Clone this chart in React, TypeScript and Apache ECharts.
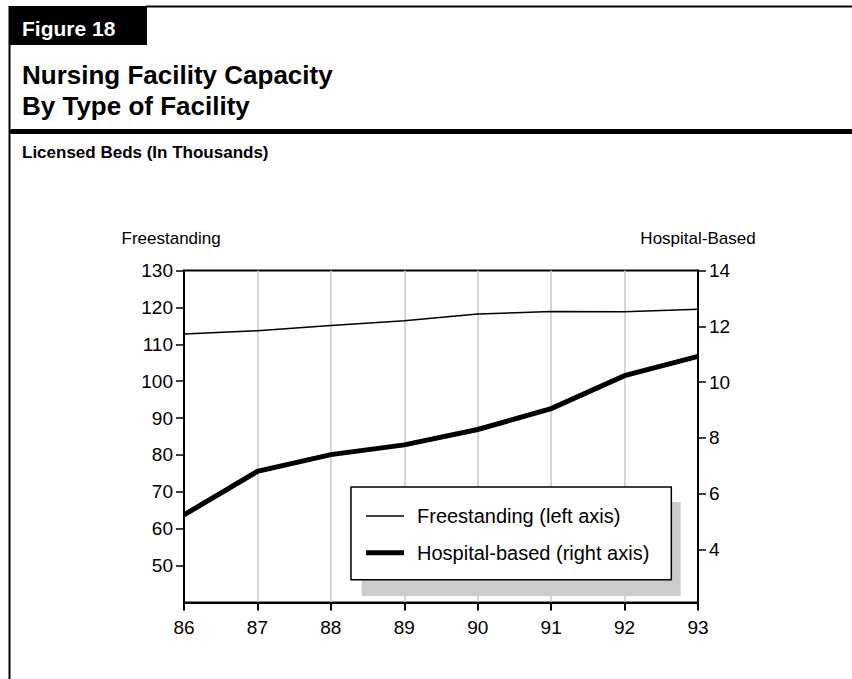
import React, { useEffect, useRef } from 'react';
import * as echarts from 'echarts';

const years = ['86', '87', '88', '89', '90', '91', '92', '93'];
const freestanding = [112.8, 113.7, 115.1, 116.4, 118.2, 118.9, 118.8, 119.5];
const hospitalBased = [5.24, 6.8, 7.4, 7.75, 8.3, 9.05, 10.23, 10.92];
const leftTicks = [50, 60, 70, 80, 90, 100, 110, 120, 130];
const rightTicks = [4, 6, 8, 10, 12, 14];
const seriesNames = ['Freestanding (left axis)', 'Hospital-based (right axis)'];
const figureLabel = 'Figure 18';
const titleLines = ['Nursing Facility Capacity', 'By Type of Facility'];
const subtitle = 'Licensed Beds (In Thousands)';
const leftAxisName = 'Freestanding';
const rightAxisName = 'Hospital-Based';

const FONT = '"Liberation Sans", Arial, Helvetica, sans-serif';

export default function App() {
  const ref = useRef<HTMLDivElement>(null);
  useEffect(() => {
    const chart = echarts.init(ref.current as HTMLDivElement, null, { renderer: 'svg' });
    chart.setOption({
      animation: false,
      backgroundColor: '#fff',
      textStyle: { fontFamily: FONT },
      grid: {
        left: 184, top: 270.5, width: 514, height: 332,
        show: true, borderColor: '#000', borderWidth: 2, backgroundColor: 'transparent',
      },
      xAxis: {
        type: 'category',
        data: years,
        boundaryGap: false,
        axisLine: { show: true, lineStyle: { color: '#000', width: 2 } },
        axisTick: { show: true, length: 8, interval: 0, lineStyle: { color: '#000', width: 2 } },
        axisLabel: { color: '#000', fontSize: 19, fontFamily: FONT, margin: 15, interval: 0 },
        splitLine: { show: true, interval: 0, lineStyle: { color: '#c8c8c8', width: 1.5 } },
      },
      yAxis: [
        {
          type: 'value', min: 40, max: 130, position: 'left',
          axisLine: { show: true, lineStyle: { color: '#000', width: 2 } },
          axisTick: { show: true, length: 8, customValues: leftTicks, lineStyle: { color: '#000', width: 1.5 } },
          axisLabel: { color: '#000', fontSize: 19, fontFamily: FONT, margin: 11, customValues: leftTicks },
          splitLine: { show: false },
        },
        {
          type: 'value', min: 2.1, max: 14, position: 'right',
          axisLine: { show: true, lineStyle: { color: '#000', width: 2 } },
          axisTick: { show: true, length: 8, customValues: rightTicks, lineStyle: { color: '#000', width: 1.5 } },
          axisLabel: { color: '#000', fontSize: 19, fontFamily: FONT, margin: 11, customValues: rightTicks },
          splitLine: { show: false },
        },
      ],
      legend: {
        orient: 'vertical',
        left: 351, top: 487,
        padding: [19, 22, 17, 15],
        itemWidth: 38, itemHeight: 20, itemGap: 16.7,
        backgroundColor: '#fff', borderColor: '#000', borderWidth: 1.5,
        selectedMode: false,
        textStyle: { fontSize: 20, color: '#000', fontFamily: FONT, padding: [0, 0, 0, 8], lineHeight: 20 },
        data: [
          { name: seriesNames[0], icon: 'path://M0 0H38V1.5H0Z' },
          { name: seriesNames[1], icon: 'path://M0 0H38V5H0Z' },
        ],
      },
      series: [
        {
          name: seriesNames[0], type: 'line', yAxisIndex: 0, data: freestanding,
          symbol: 'none', itemStyle: { color: '#000' },
          lineStyle: { color: '#000', width: 1.5 }, z: 3,
        },
        {
          name: seriesNames[1], type: 'line', yAxisIndex: 1, data: hospitalBased,
          symbol: 'none', itemStyle: { color: '#000' },
          lineStyle: { color: '#000', width: 5, join: 'miter' }, z: 3,
        },
      ],
      graphic: [
        { type: 'line', z: 10, shape: { x1: 146, y1: 6.5, x2: 852, y2: 6.5 }, style: { stroke: '#000', lineWidth: 2 } },
        { type: 'line', z: 10, shape: { x1: 9.5, y1: 6, x2: 9.5, y2: 679 }, style: { stroke: '#000', lineWidth: 2 } },
        { type: 'rect', z: 10, shape: { x: 9, y: 6, width: 138, height: 39 }, style: { fill: '#000' } },
        { type: 'text', z: 11, x: 22, y: 28.7, style: { text: figureLabel, fill: '#fff', font: `bold 21px ${FONT}`, verticalAlign: 'middle' } },
        { type: 'text', z: 10, x: 22, y: 75, style: { text: titleLines[0], fill: '#000', font: `bold 26px ${FONT}`, verticalAlign: 'middle' } },
        { type: 'text', z: 10, x: 22, y: 105.5, style: { text: titleLines[1], fill: '#000', font: `bold 26px ${FONT}`, verticalAlign: 'middle' } },
        { type: 'line', z: 10, shape: { x1: 12, y1: 131.5, x2: 852, y2: 131.5 }, style: { stroke: '#000', lineWidth: 5, lineCap: 'round' } },
        { type: 'text', z: 10, x: 22, y: 152, style: { text: subtitle, fill: '#000', font: `bold 17px ${FONT}`, verticalAlign: 'middle' } },
        { type: 'text', z: 10, x: 121.5, y: 238.5, style: { text: leftAxisName, fill: '#000', font: `17px ${FONT}`, verticalAlign: 'middle' } },
        { type: 'text', z: 10, x: 698, y: 238, style: { text: rightAxisName, fill: '#000', font: `17px ${FONT}`, verticalAlign: 'middle', align: 'center' } },
        { type: 'rect', z: 3, shape: { x: 361.7, y: 502, width: 319, height: 94 }, style: { fill: '#cccccc' } },
      ],
    });
    return () => chart.dispose();
  }, []);
  return (
    <div
      ref={ref}
      style={{ position: 'absolute', left: 0, top: 0, width: 852, height: 679, background: '#fff' }}
    />
  );
}
